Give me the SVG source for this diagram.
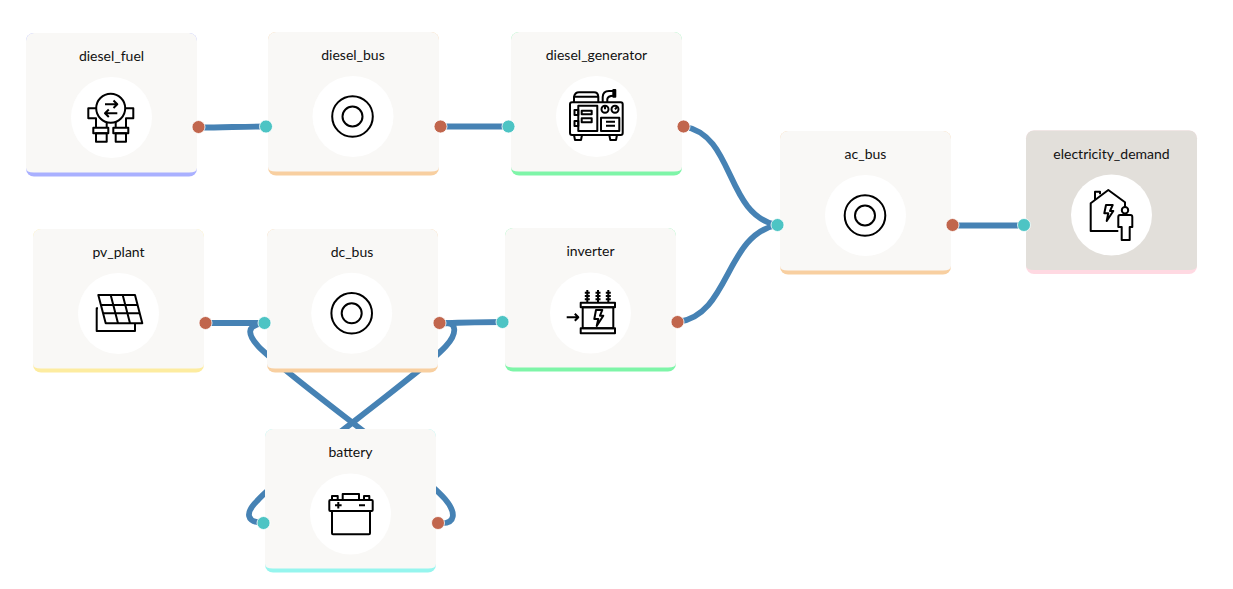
<svg xmlns="http://www.w3.org/2000/svg" width="1233" height="589" viewBox="0 0 1233 589">
<style>
.card{fill:#f9f8f6}
.dark{fill:#e2dfda}
.disc{fill:#fff}
.lbl{font:14px Lato,"Liberation Sans",sans-serif;fill:#111;text-anchor:middle}
.ic{fill:none;stroke:#000;stroke-width:2;stroke-linejoin:round}
.edge{fill:none;stroke:#4682b4;stroke-width:5.800}
.out{fill:#c1664d;stroke:#fff;stroke-width:.8}
.in{fill:#4dc4c4;stroke:#fff;stroke-width:.8}
</style>
<rect width="1233" height="589" fill="#fff"/>
<g id="connectors">
<path class="edge" d="M199 127.500 C225 127.500 240 126.500 266 126.500"/>
<path class="edge" d="M441 126.500 H509"/>
<path class="edge" d="M684 126.500 C735 135 725 215 777 225"/>
<path class="edge" d="M678 322 C730 315 725 235 777 225"/>
<path class="edge" d="M953 225.500 H1024"/>
<path class="edge" d="M206 323 H265"/>
<path class="edge" d="M440 323.500 C465 322.500 502 322 503 322"/>
<path class="edge" d="M440 323.500 C460 320 456 335 446 346 C420 375 285 470 257 501 C245 513 246 522 263 523"/>
<path class="edge" d="M438 523 C457 525 456 512 445 499 C420 470 285 375 258 346 C248 335 245 325 265 323"/>
</g>
<g id="diesel_fuel">
<rect x="26" y="33" width="171" height="143.500" rx="8" fill="#a9b0ff"/>
<path class="card" d="M34 33H189A8 8 0 0 1 197 41V168Q197 172.500 189 172.500H34Q26 172.500 26 168V41A8 8 0 0 1 34 33Z"/>
<circle class="disc" cx="111.500" cy="117.500" r="40.500"/>
<text class="lbl" x="111.500" y="60.500">diesel_fuel</text>
<g class="ic">
<circle cx="110.700" cy="108.300" r="14.500"/>
<path d="M96 108.300H88.300V118.300H96V127.700M125.500 108.300H133.300V118.300H126V127.700M106.700 122V127.700M115.700 122V127.700"/>
<rect x="93.300" y="127.700" width="15" height="5.600"/>
<rect x="113.300" y="127.700" width="15" height="5.600"/>
<rect x="96" y="133.300" width="10.700" height="8.400"/>
<rect x="115.700" y="133.300" width="10.300" height="8.400"/>
<path d="M105 104.300H117.300M113.500 100.500L117.300 104.300L113.500 108M117.300 113.300H105M108.800 109.500L105 113.300L108.800 117"/>
</g>
<circle class="out" cx="198.500" cy="127" r="6.500"/>
</g>
<g id="diesel_bus">
<rect x="268" y="32" width="171" height="143.500" rx="8" fill="#f8cfa0"/>
<path class="card" d="M276 32H431A8 8 0 0 1 439 40V167Q439 171.500 431 171.500H276Q268 171.500 268 167V40A8 8 0 0 1 276 32Z"/>
<circle class="disc" cx="353" cy="116.500" r="40.500"/>
<text class="lbl" x="353" y="59.500">diesel_bus</text>
<g class="ic"><circle cx="352.500" cy="116.500" r="20.300"/><circle cx="352.500" cy="116.500" r="10"/></g>
<circle class="in" cx="266" cy="126.500" r="6.500"/>
<circle class="out" cx="440.500" cy="126.500" r="6.500"/>
</g>
<g id="diesel_generator">
<rect x="511" y="32" width="171" height="143.500" rx="8" fill="#7ef5a8"/>
<path class="card" d="M519 32H674A8 8 0 0 1 682 40V167Q682 171.500 674 171.500H519Q511 171.500 511 167V40A8 8 0 0 1 519 32Z"/>
<circle class="disc" cx="596.500" cy="116.500" r="40.500"/>
<text class="lbl" x="596.500" y="59.500">diesel_generator</text>
<g class="ic">
<rect x="570" y="102.300" width="52.700" height="32.700" rx="2"/>
<path d="M574 135L575 140H581L582 135M609.300 135L610.300 140H616L617 135"/>
<path d="M574 102.300V96.700Q575 92.300 579 92.300H594Q598 92.300 598.300 96.700V102.300M574 96.700H598.300"/>
<path d="M602.700 102.300V97Q603 91 609 91H613.300M607.300 102.300V99Q608 95.700 613.300 95.700"/>
<rect x="613.300" y="90" width="2" height="6.700"/>
<rect x="578.300" y="105.700" width="19" height="25.300"/>
<rect x="581.700" y="110.700" width="10" height="3.600"/>
<rect x="581.700" y="118.300" width="10" height="4"/>
<path d="M574.500 110H578.300V115H574.500ZM574.500 121H578.300V126H574.500Z"/>
<circle cx="605" cy="109.300" r="3.500"/>
<circle cx="615" cy="109.300" r="3.500"/>
<path d="M605 106V109.300M615 109.300L617 107"/>
<rect x="601" y="117.700" width="18.300" height="13.300"/>
<path d="M606 121.700H615M606 125.700H615"/>
</g>
<circle class="in" cx="508.500" cy="126.500" r="6.500"/>
<circle class="out" cx="683.500" cy="126.500" r="6.500"/>
</g>
<g id="ac_bus">
<rect x="780" y="131" width="171" height="143.500" rx="8" fill="#f8cfa0"/>
<path class="card" d="M788 131H943A8 8 0 0 1 951 139V266Q951 270.500 943 270.500H788Q780 270.500 780 266V139A8 8 0 0 1 788 131Z"/>
<circle class="disc" cx="865.500" cy="215.500" r="40.500"/>
<text class="lbl" x="865.500" y="158.500">ac_bus</text>
<g class="ic"><circle cx="865" cy="215.500" r="20.300"/><circle cx="865" cy="215.500" r="10"/></g>
<circle class="in" cx="777.500" cy="225" r="6.500"/>
<circle class="out" cx="952.500" cy="225" r="6.500"/>
</g>
<g id="electricity_demand">
<rect x="1026" y="130.500" width="171" height="143.500" rx="8" fill="#ffd9e2"/>
<path class="dark" d="M1034 130.500H1189A8 8 0 0 1 1197 138.500V265.500Q1197 270 1189 270H1034Q1026 270 1026 265.500V138.500A8 8 0 0 1 1034 130.500Z"/>
<circle class="disc" cx="1111.500" cy="215" r="40.500"/>
<text class="lbl" x="1111.500" y="158.500">electricity_demand</text>
<g class="ic">
<path d="M1118.300 231H1090.700V203.300L1108.300 190L1125 202.300V207"/>
<path d="M1095 200V191.700H1100V194.300"/>
<circle cx="1125" cy="210.300" r="3.200"/>
<path d="M1120 215H1130.500Q1132.300 215 1132.300 217V227H1129.700V240H1121.700V227H1118.300V217Q1118.300 215 1120 215Z"/>
<path d="M1106 205H1112.700L1110 211H1113.300L1106.700 221L1108.300 213.300H1104.300Z"/>
</g>
<circle class="in" cx="1024" cy="225" r="6.500"/>
</g>
<g id="pv_plant">
<rect x="33" y="229" width="171" height="143.500" rx="8" fill="#fdeca0"/>
<path class="card" d="M41 229H196A8 8 0 0 1 204 237V364Q204 368.500 196 368.500H41Q33 368.500 33 364V237A8 8 0 0 1 41 229Z"/>
<circle class="disc" cx="118.500" cy="313.500" r="40.500"/>
<text class="lbl" x="118.500" y="256.500">pv_plant</text>
<g class="ic">
<path d="M98.300 295H135L142.300 323.300H105.700Z"/>
<path d="M100.900 305H137.600M103 313.300H139.700M110.700 295L118 323.300M122.700 295L130 323.300"/>
<path d="M98 308.300H96.700V331H135V323.300"/>
</g>
<circle class="out" cx="205.500" cy="323" r="6.500"/>
</g>
<g id="dc_bus">
<rect x="267" y="229" width="171" height="143.500" rx="8" fill="#f8cfa0"/>
<path class="card" d="M275 229H430A8 8 0 0 1 438 237V364Q438 368.500 430 368.500H275Q267 368.500 267 364V237A8 8 0 0 1 275 229Z"/>
<circle class="disc" cx="351.700" cy="313.300" r="40.500"/>
<text class="lbl" x="352" y="256.500">dc_bus</text>
<g class="ic"><circle cx="351.700" cy="313.300" r="20.300"/><circle cx="351.700" cy="313.300" r="10"/></g>
<circle class="in" cx="264.500" cy="323" r="6.500"/>
<circle class="out" cx="439.500" cy="323" r="6.500"/>
</g>
<g id="inverter">
<rect x="505" y="228" width="171" height="143.500" rx="8" fill="#7ef5a8"/>
<path class="card" d="M513 228H668A8 8 0 0 1 676 236V363Q676 367.500 668 367.500H513Q505 367.500 505 363V236A8 8 0 0 1 513 228Z"/>
<circle class="disc" cx="590.500" cy="313" r="40.500"/>
<text class="lbl" x="590.500" y="255.500">inverter</text>
<g class="ic">
<rect x="580.700" y="302.700" width="34.300" height="4.600"/>
<rect x="582.700" y="307.300" width="30.600" height="21"/>
<rect x="580.700" y="328.300" width="34.300" height="5"/>
<path d="M587.300 290V302.700M598 290V302.700M608.300 290V302.700"/>
<path d="M584.800 292.700H589.800M584.800 296H589.800M584.800 299.300H589.800M595.500 292.700H600.500M595.500 296H600.500M595.500 299.300H600.500M605.800 292.700H610.800M605.800 296H610.800M605.800 299.300H610.800"/>
<path d="M566.700 317.300H578.300M574.800 313.800L578.300 317.300L574.800 320.800"/>
<path d="M596 310H602.300L600 315.700H603.300L596.700 326L598.300 319H594.300Z"/>
</g>
<circle class="in" cx="502.500" cy="322" r="6.500"/>
<circle class="out" cx="677.500" cy="322" r="6.500"/>
</g>
<g id="battery">
<rect x="265" y="429" width="171" height="143.500" rx="8" fill="#96f5ee"/>
<path class="card" d="M273 429H428A8 8 0 0 1 436 437V564Q436 568.500 428 568.500H273Q265 568.500 265 564V437A8 8 0 0 1 273 429Z"/>
<circle class="disc" cx="350.500" cy="514" r="40.500"/>
<text class="lbl" x="350.500" y="456.500">battery</text>
<g class="ic">
<rect x="329.300" y="500" width="43.400" height="11" rx="1"/>
<path d="M332 511V533.300Q332 534.300 333 534.300H369Q370 534.300 370 533.300V511"/>
<path d="M342.700 500V494H359V500M332 500V496H337.700V500M364 500V496H369.300V500"/>
<path d="M335 505.300H341.600M338.300 502V508.600M359 505.300H365"/>
</g>
<circle class="in" cx="263.500" cy="523" r="6.500"/>
<circle class="out" cx="438" cy="523" r="6.500"/>
</g>
</svg>
